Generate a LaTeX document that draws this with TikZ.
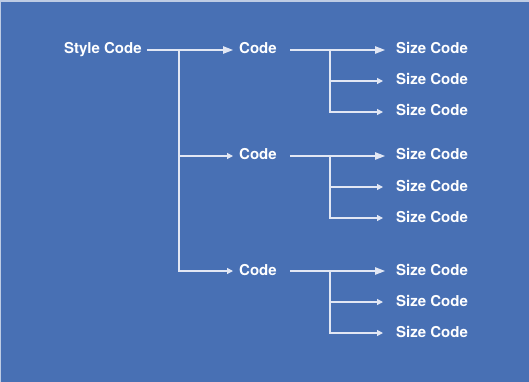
\documentclass[tikz,border=0pt]{standalone}
\usepackage{fontspec}
\setmainfont{TeX Gyre Heros}
\usepackage{xcolor}
\usepackage{tikz}
\usetikzlibrary{positioning,arrows.meta,calc}
\definecolor{bgBlue}{RGB}{72,112,180}
\definecolor{bgEdge}{RGB}{190,204,228}
\definecolor{wLine}{RGB}{226,231,244}
\tikzset{
  lbl/.style={anchor=west, inner sep=0pt, text=white, text height=11pt,
              text depth=3pt, font=\fontsize{15}{17}\selectfont\bfseries},
  wire/.style={draw=wLine, line width=1.2pt},
  bigarr/.style={wire, -{Triangle[length=10pt,width=7.5pt]}},
  smallarr/.style={wire, -{Triangle[length=6pt,width=6pt]}},
}
\newcommand{\CodeGroup}[2]{% {name}{y of line}
  \node[lbl] (#1) at (239,#2) {Code};
  \node[lbl] (#1a) at (396,#2) {Size Code};
  \node[lbl] (#1b) at (396,{#2+31}) {Size Code};
  \node[lbl] (#1c) at (396,{#2+62}) {Size Code};
  \coordinate (#1j) at (330,#2);
  \draw[bigarr, shorten <=13pt, shorten >=11pt] (#1.east) -- (#1a.west);
  \draw[smallarr, shorten >=13pt] (#1j) |- (#1b.west);
  \draw[smallarr, shorten >=13pt] (#1j) |- (#1c.west);}

\begin{document}
\begin{tikzpicture}[x=1pt, y=-1pt]
  \fill[bgBlue] (0,0) rectangle (529,382);
  \useasboundingbox (0,0) rectangle (529,382);
  \draw[bgEdge, line width=1.6pt] (0,0.8) -- (529,0.8);
  \draw[bgEdge, line width=1pt] (0.5,0) -- (0.5,382);

  \node[lbl] (sc) at (64,50) {Style Code};
  \CodeGroup{cA}{50}
  \CodeGroup{cB}{156}
  \CodeGroup{cC}{271}
  \coordinate (j0) at (179,50);
  \draw[bigarr, shorten <=5pt, shorten >=6pt] (sc.east) -- (cA.west);
  \draw[smallarr, shorten >=6pt] (j0) |- (cB.west);
  \draw[smallarr, shorten >=6pt] (j0) |- (cC.west);
\end{tikzpicture}
\end{document}
